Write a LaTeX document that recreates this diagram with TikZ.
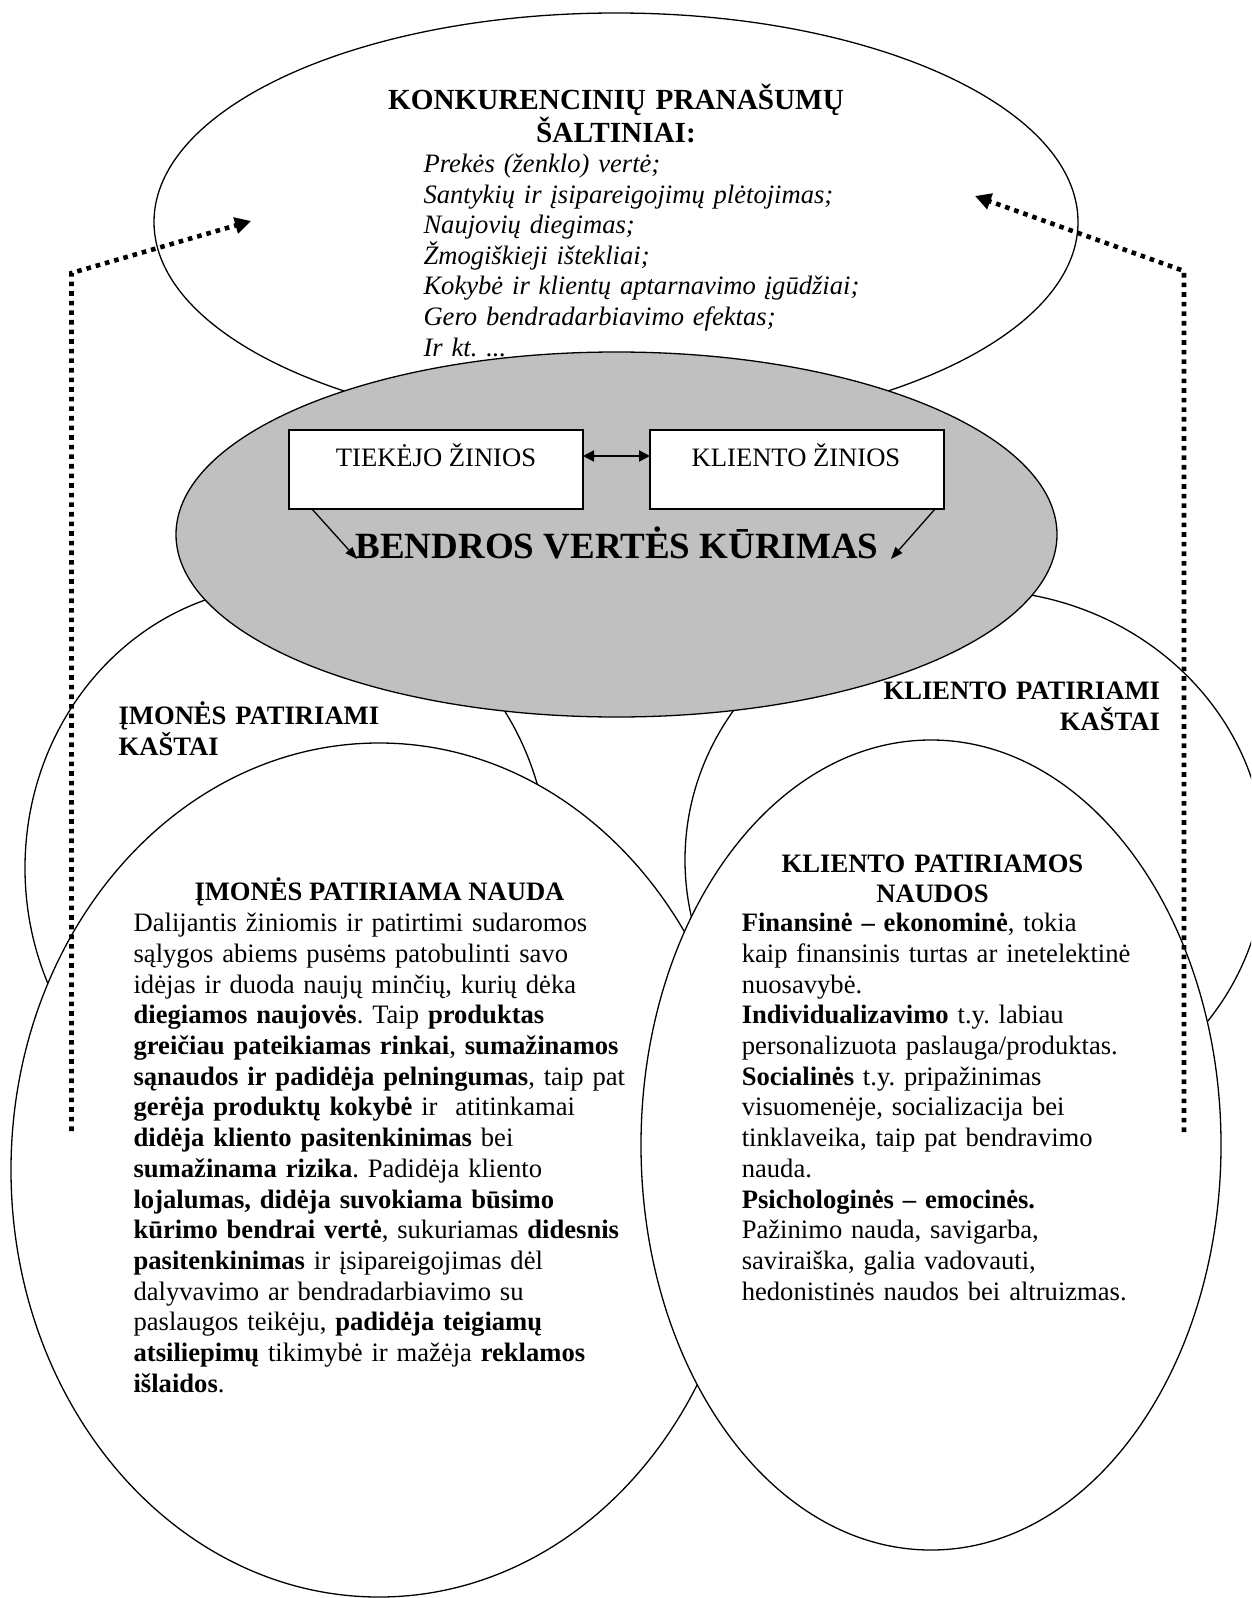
\documentclass[tikz,border=0pt]{standalone}
\usepackage{fontspec}
\setmainfont{Liberation Serif}
\usetikzlibrary{shapes.geometric,arrows.meta}
\definecolor{graybg}{RGB}{192,192,192}
\frenchspacing
\begin{document}
\begin{tikzpicture}[x=1bp,y=-1bp,
  ell/.style={draw=black,line width=1.3bp,fill=white,ellipse,inner sep=0pt,outer sep=0pt},
  kbox/.style={draw=black,line width=1.8bp,fill=white,inner sep=0pt,outer sep=0pt,minimum width=294bp,minimum height=79bp},
  reg/.style={inner sep=0pt,outer sep=0pt,font=\frenchspacing\fontsize{26.6bp}{30.7bp}\selectfont},
  bld/.style={inner sep=0pt,outer sep=0pt,font=\frenchspacing\bfseries\fontsize{26.6bp}{30.7bp}\selectfont},
  dotarrow/.style={line width=4.6bp,dash pattern=on 4.6bp off 5bp,-{Triangle[length=16bp,width=16bp]}},
  thinarrow/.style={line width=1.3bp,-{Triangle[length=12bp,width=9bp]}},
  duoarrow/.style={line width=2bp,{Triangle[length=11bp,width=11bp]}-{Triangle[length=11bp,width=11bp]}},
]
\useasboundingbox (0,0) rectangle (1251,1598);
\clip (0,0) rectangle (1251,1598);

% ellipses, back to front
\node[ell,minimum width=924bp,minimum height=418bp] (top) at (616,222) {};
\node[ell,minimum width=524bp,minimum height=564bp] (lkas) at (287,868) {};
\node[ell,minimum width=580bp,minimum height=540bp] (rkas) at (975,860) {};
\node[ell,fill=graybg,minimum width=881bp,minimum height=365bp] (gray) at (616.5,534.5) {};
\node[ell,minimum width=736bp,minimum height=854bp] (lnau) at (379,1170) {};
\node[ell,minimum width=580bp,minimum height=810bp] (rnau) at (931,1145) {};

% knowledge boxes
\node[kbox] (tb) at (436,469.5) {};
\node[kbox] (kb) at (797,469.5) {};
\node[reg,anchor=base] (tbt) at (436,466.8) {TIEKĖJO ŽINIOS};
\node[reg,anchor=base] (kbt) at (796,466.8) {KLIENTO ŽINIOS};
\draw[duoarrow] ([yshift=13.5bp]tb.east) -- ([yshift=13.5bp]kb.west);

\node[inner sep=0pt,outer sep=0pt,anchor=base,font=\bfseries\fontsize{37bp}{40bp}\selectfont] (bvk) at (617,558.7) {BENDROS VERTĖS KŪRIMAS};
\coordinate (la2) at (357,559);
\coordinate (ra2) at (891,559);
\draw[thinarrow] ([xshift=23bp]tb.south west) -- (la2);
\draw[thinarrow] ([xshift=-9bp]kb.south east) -- (ra2);

% top ellipse text
\node[inner sep=0pt,outer sep=0pt,anchor=base,align=center,text width=600bp,font=\bfseries\fontsize{29.2bp}{32.5bp}\selectfont] (ttl) at (616,110) {KONKURENCINIŲ PRANAŠUMŲ\\ŠALTINIAI:};
\node[inner sep=0pt,outer sep=0pt,anchor=base west,align=left,text width=560bp,font=\frenchspacing\itshape\fontsize{26.6bp}{30.6bp}\selectfont] (lst) at (423.5,172.4) {Prekės (ženklo) vertė;\\
Santykių ir įsipareigojimų plėtojimas;\\
Naujovių diegimas;\\
Žmogiškieji ištekliai;\\
Kokybė ir klientų aptarnavimo įgūdžiai;\\
Gero bendradarbiavimo efektas;\\
Ir kt. ...};

% cost labels
\node[bld,anchor=base west,align=left,text width=320bp] (lkt) at (118.6,724.5) {ĮMONĖS PATIRIAMI\\KAŠTAI};
\node[bld,anchor=base east,align=right,text width=320bp] (rkt) at (1160,699.5) {KLIENTO PATIRIAMI\\KAŠTAI};

% company benefit
\node[bld,anchor=base] (lnt) at (379.5,900) {ĮMONĖS PATIRIAMA NAUDA};
\node[reg,anchor=base west,align=left,text width=560bp] (lnb) at (133.6,931.7) {Dalijantis žiniomis ir patirtimi sudaromos\\
sąlygos abiems pusėms patobulinti savo\\
idėjas ir duoda naujų minčių, kurių dėka\\
\textbf{diegiamos naujovės}. Taip \textbf{produktas}\\
\textbf{greičiau pateikiamas rinkai}, \textbf{sumažinamos}\\
\textbf{sąnaudos ir padidėja pelningumas}, taip pat\\
\textbf{gerėja produktų kokybė} ir \ atitinkamai\\
\textbf{didėja kliento pasitenkinimas} bei\\
\textbf{sumažinama rizika}. Padidėja kliento\\
\textbf{lojalumas, didėja suvokiama būsimo}\\
\textbf{kūrimo bendrai vertė}, sukuriamas \textbf{didesnis}\\
\textbf{pasitenkinimas} ir įsipareigojimas dėl\\
dalyvavimo ar bendradarbiavimo su\\
paslaugos teikėju, \textbf{padidėja teigiamų}\\
\textbf{atsiliepimų} tikimybė ir mažėja \textbf{reklamos}\\
\textbf{išlaidos}.};

% client benefit
\node[bld,anchor=base,align=center,text width=400bp] (rnt) at (932.5,872) {KLIENTO PATIRIAMOS\\NAUDOS};
\node[reg,anchor=base west,align=left,text width=480bp] (rnb) at (741.8,931.7) {\textbf{Finansinė – ekonominė}, tokia\\
kaip finansinis turtas ar inetelektinė\\
nuosavybė.\\
\textbf{Individualizavimo} t.y. labiau\\
personalizuota paslauga/produktas.\\
\textbf{Socialinės} t.y. pripažinimas\\
visuomenėje, socializacija bei\\
tinklaveika, taip pat bendravimo\\
nauda.\\
\textbf{Psichologinės – emocinės.}\\
Pažinimo nauda, savigarba,\\
saviraiška, galia vadovauti,\\
hedonistinės naudos bei altruizmas.};

% dotted feedback arrows
\coordinate (lb) at (71.5,1131);
\coordinate (lc) at (71.5,273);
\coordinate (lt) at (251,221);
\coordinate (rb) at (1184,1132);
\coordinate (rc) at (1184,271);
\coordinate (rt) at (975,196);
\draw[dotarrow] (lb) -- (lc) -- (lt);
\draw[dotarrow] (rb) -- (rc) -- (rt);
\end{tikzpicture}
\end{document}
